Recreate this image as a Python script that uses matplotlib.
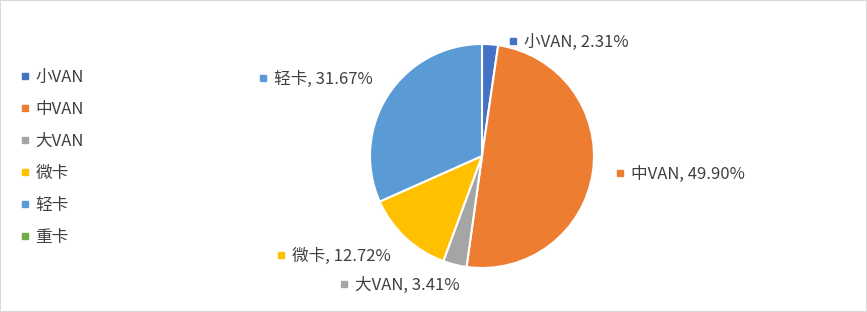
import matplotlib.pyplot as plt
from matplotlib.lines import Line2D
from matplotlib.patches import Rectangle

plt.rcParams['font.family'] = ['Noto Sans CJK SC', 'DejaVu Sans']

# data
categories = ['小VAN', '中VAN', '大VAN', '微卡', '轻卡', '重卡']
shares = [2.31, 49.90, 3.41, 12.72, 31.67, 0.0]
colors = ['#4472C4', '#ED7D31', '#A5A5A5', '#FFC000', '#5B9BD5', '#70AD47']

# label anchors (pixel coords of the small square before each label)
label_pos = {
    '小VAN': (513, 41),
    '中VAN': (620, 173),
    '大VAN': (344, 284),
    '微卡': (281, 255),
    '轻卡': (263, 78),
}

W, H = 867, 312
fig = plt.figure(figsize=(W / 100, H / 100), dpi=100)
ax = fig.add_axes([0, 0, 1, 1])

# pie drawn with y axis going down, so counterclock=True gives clockwise on screen
vals = [v for v in shares if v > 0]
cols = [c for v, c in zip(shares, colors) if v > 0]
ax.pie(vals, colors=cols, startangle=-90, counterclock=True,
       center=(482, 156), radius=112, frame=True,
       wedgeprops=dict(edgecolor='white', linewidth=1.5))
ax.set_xlim(0, W)
ax.set_ylim(H, 0)
ax.set_aspect('equal')
ax.axis('off')

for cat, v, c in zip(categories, shares, colors):
    if v <= 0:
        continue
    x, y = label_pos[cat]
    ax.plot(x, y, marker='s', color=c, markersize=4.3, linestyle='none')
    ax.text(x + 11, y + 1, f'{cat}, {v:.2f}%', fontsize=12, color='#404040',
            va='center', ha='left')

handles = [Line2D([], [], marker='s', color=c, linestyle='none', markersize=4.3)
           for c in colors]
leg = ax.legend(handles, categories, loc='upper left',
                bbox_to_anchor=(0.016, 0.80), frameon=False, fontsize=12,
                labelspacing=0.9, handlelength=0.5, handletextpad=0.4,
                borderaxespad=0, labelcolor='#404040')

fig.patches.append(Rectangle((0, 0), 1, 1, transform=fig.transFigure,
                             fill=False, edgecolor='#D9D9D9', linewidth=1.5))

fig.savefig('out.png', dpi=100)
